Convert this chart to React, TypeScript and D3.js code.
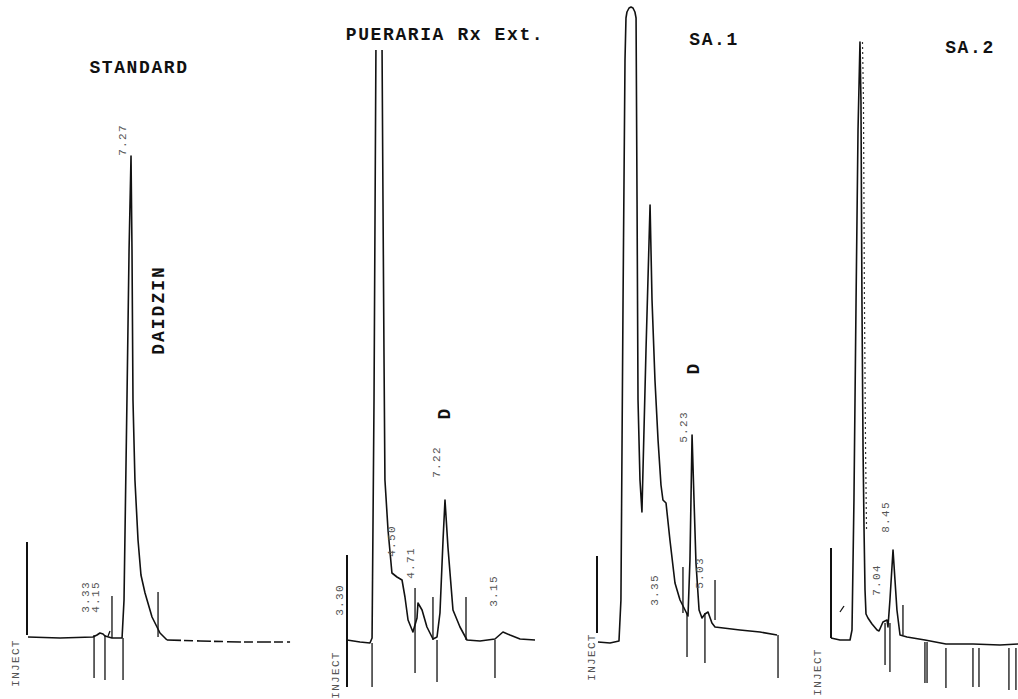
import { useEffect, useRef } from 'react';
import * as d3 from 'd3';

const WIDTH = 1018;
const HEIGHT = 699;

// Traces: retention time (min) vs detector response (mV)
const standardTime = [0.07, 2.36, 4.71, 5.0, 5.21, 5.43, 5.57, 6.07, 6.79, 6.93, 7.14, 7.29, 7.43, 7.5, 7.57, 7.71, 7.93, 8.14, 8.43, 8.93, 9.5, 10.0, 12.36, 15.21, 18.79];
const standardSignal = [1.5, 1, 1.5, 2.5, 3.5, 3, 2, 1, 1, 20, 120, 195, 242, 195, 120, 80, 50, 32.5, 23.5, 11.5, 3.5, 0, -0.5, -1, -1];

const puerariaTime = [0, 0.93, 1.64, 1.79, 1.93, 2.07, 2.29, 2.5, 2.57, 2.64, 2.71, 2.93, 3.21, 3.57, 3.93, 4.14, 4.36, 4.71, 5.0, 5.07, 5.36, 5.71, 6.14, 6.43, 6.64, 6.86, 7.0, 7.21, 7.57, 8.07, 8.57, 9.5, 10.57, 11.14, 11.64, 12.36, 13.43];
const puerariaSignal = [0, -1, -1.5, 1, 120, 300, 320, 300, 220, 145, 80, 55, 33.5, 31.5, 30, 21.5, 10, 4, 11, 18.5, 15, 6.5, 0.5, 1.5, 13.5, 50, 70, 46.5, 15, 6.5, 0, -0.5, 0.5, 4, 2.5, 0.5, 0];

const sa1Time = [0.07, 0.93, 1.57, 1.71, 1.86, 2.0, 2.07, 2.14, 2.29, 2.43, 2.57, 2.71, 2.79, 2.86, 2.93, 3.07, 3.21, 3.5, 3.79, 3.93, 4.14, 4.36, 4.57, 4.71, 4.93, 5.21, 5.57, 5.93, 6.36, 6.5, 6.64, 6.79, 6.93, 7.07, 7.29, 7.5, 7.71, 7.93, 8.21, 8.43, 10.21, 11.64, 12.86];
const sa1Signal = [-1, -1.5, -0.5, 20, 170, 290, 311, 314, 316, 316.5, 316, 314, 311, 220, 120, 80, 64, 145, 217.5, 170, 130, 100, 77.5, 70, 68.5, 50, 28.5, 20, 14, 12, 40, 102.5, 70, 38.5, 15, 11, 13, 14, 8.5, 6.5, 5, 4, 2.5];

const sa2Time = [0, 0.64, 1.36, 1.5, 1.64, 1.79, 1.93, 2.07, 2.14, 2.21, 2.29, 2.36, 2.43, 2.5, 2.64, 2.93, 3.29, 3.43, 3.71, 4.0, 4.07, 4.21, 4.43, 4.57, 4.71, 4.93, 5.43, 6.71, 8.21, 10.14, 12.07, 13.36];
const sa2Signal = [1, 0, 0, 5, 70, 170, 255, 299, 270, 170, 95, 55, 25, 13, 11, 8, 5, 4.5, 9, 10, 6.5, 20, 45, 30, 15, 2.5, 1.5, 0, -2, -2, -2.5, -2];

// Integrator event marks (vertical strokes): time, top and bottom response
const standardMarkTime = [0, 6.07, 9.36, 4.79, 5.57, 6.86];
const standardMarkTop = [49, 22, 24, 2.5, 2.5, 1];
const standardMarkBottom = [2.5, 1, 1.5, -19, -20, -20];

const puerariaMarkTime = [0, 1.79, 4.86, 6.14, 6.43, 8.5, 10.57];
const puerariaMarkTop = [42.5, -1.5, 26, 21.5, 0, 21.5, 0];
const puerariaMarkBottom = [-23.5, -23.5, -16.5, 0, -21, 0, -19];

const sa1MarkTime = [0, 6.14, 6.43, 7.71, 8.43, 12.93];
const sa1MarkTop = [42, 36.5, 13.5, 13.5, 30, 2.5];
const sa1MarkBottom = [3.5, 13.5, -8.5, -11.5, 10, -19];

const sa2MarkTime = [0, 3.86, 4.21, 5.14, 6.71, 6.86, 8.21, 10.14, 10.57, 12.71, 13.21];
const sa2MarkTop = [46, 8.5, 8.5, 17.5, -1, -1, -4, -4, -4, -4, -4];
const sa2MarkBottom = [1, -12.5, -16, 2.5, -21.5, -21.5, -24, -23.5, -23.5, -25, -25];

// Retention time printouts (rotated)
const standardLabelText = ['7.27', '3.33', '4.15', 'INJECT'];
const standardLabelTime = [6.86, 4.21, 4.93, -0.79];
const standardLabelSignal = [250, 21.5, 21.5, -11.5];

const puerariaLabelText = ['3.30', 'INJECT', '4.50', '4.71', '7.22', '3.15'];
const puerariaLabelTime = [-0.5, -0.79, 3.21, 4.57, 6.43, 10.5];
const puerariaLabelSignal = [20, -17.5, 49.5, 38.5, 89, 24.5];

const sa1LabelText = ['INJECT', '3.35', '5.23', '5.03'];
const sa1LabelTime = [-0.36, 4.14, 6.21, 7.36];
const sa1LabelSignal = [-8.5, 25, 106.5, 33.5];

const sa2LabelText = ['INJECT', '7.04', '8.45'];
const sa2LabelTime = [-0.93, 3.29, 3.93];
const sa2LabelSignal = [-16, 30, 61.5];

// Typed peak names (rotated, large)
const standardNoteText = ['DAIDZIN'];
const standardNoteTime = [9.43];
const standardNoteSignal = [165];

const puerariaNoteText = ['D'];
const puerariaNoteTime = [7.0];
const puerariaNoteSignal = [113.5];

const sa1NoteText = ['D'];
const sa1NoteTime = [6.93];
const sa1NoteSignal = [136];

const sa2NoteText: string[] = [];
const sa2NoteTime: number[] = [];
const sa2NoteSignal: number[] = [];

const titles = ['STANDARD', 'PUERARIA Rx Ext.', 'SA.1', 'SA.2'];
const titleTime = [8.0, 7.0, 8.36, 9.93];
const titleSignal = [286, 302.5, 300, 296];

const FONT = '"Liberation Mono", "DejaVu Sans Mono", monospace';

export default function App() {
  const svgRef = useRef<SVGSVGElement>(null);

  useEffect(() => {
    if (!svgRef.current) return;
    const svg = d3.select(svgRef.current);
    svg.selectAll('*').remove();

    svg.append('rect').attr('width', WIDTH).attr('height', HEIGHT).attr('fill', '#fff');

    const yScale = d3.scaleLinear().domain([0, 320]).range([640, 0]);
    const pxPerMin = 14;

    const panels = [
      { x0: 27, clipTop: 0, dashFrom: 10.0, echo: null as null | [number, number], time: standardTime, signal: standardSignal,
        markTime: standardMarkTime, markTop: standardMarkTop, markBottom: standardMarkBottom,
        labelText: standardLabelText, labelTime: standardLabelTime, labelSignal: standardLabelSignal,
        noteText: standardNoteText, noteTime: standardNoteTime, noteSignal: standardNoteSignal },
      { x0: 347, clipTop: 50, dashFrom: Infinity, echo: null, time: puerariaTime, signal: puerariaSignal,
        markTime: puerariaMarkTime, markTop: puerariaMarkTop, markBottom: puerariaMarkBottom,
        labelText: puerariaLabelText, labelTime: puerariaLabelTime, labelSignal: puerariaLabelSignal,
        noteText: puerariaNoteText, noteTime: puerariaNoteTime, noteSignal: puerariaNoteSignal },
      { x0: 597, clipTop: 0, dashFrom: Infinity, echo: null, time: sa1Time, signal: sa1Signal,
        markTime: sa1MarkTime, markTop: sa1MarkTop, markBottom: sa1MarkBottom,
        labelText: sa1LabelText, labelTime: sa1LabelTime, labelSignal: sa1LabelSignal,
        noteText: sa1NoteText, noteTime: sa1NoteTime, noteSignal: sa1NoteSignal },
      { x0: 831, clipTop: 0, dashFrom: Infinity, echo: [2.07, 2.36] as [number, number], time: sa2Time, signal: sa2Signal,
        markTime: sa2MarkTime, markTop: sa2MarkTop, markBottom: sa2MarkBottom,
        labelText: sa2LabelText, labelTime: sa2LabelTime, labelSignal: sa2LabelSignal,
        noteText: sa2NoteText, noteTime: sa2NoteTime, noteSignal: sa2NoteSignal },
    ];

    const defs = svg.append('defs');

    panels.forEach((p, i) => {
      const xScale = d3.scaleLinear().domain([0, 14]).range([p.x0, p.x0 + 14 * pxPerMin]);
      const g = svg.append('g');

      defs.append('clipPath').attr('id', `clip-${i}`)
        .append('rect')
        .attr('x', 0).attr('y', p.clipTop)
        .attr('width', WIDTH).attr('height', HEIGHT - p.clipTop);

      const pts: [number, number][] = p.time.map((t, k) => [t, p.signal[k]]);
      const line = d3.line<[number, number]>()
        .x(d => xScale(d[0]))
        .y(d => yScale(d[1]));

      // trace (the standard's tail is printed broken on the scan)
      g.append('path')
        .datum(pts.filter(d => d[0] <= p.dashFrom))
        .attr('clip-path', `url(#clip-${i})`)
        .attr('fill', 'none')
        .attr('stroke', '#111')
        .attr('stroke-width', 1.6)
        .attr('stroke-linejoin', 'round')
        .attr('d', line);

      if (p.dashFrom !== Infinity) {
        g.append('path')
          .datum(pts.filter(d => d[0] >= p.dashFrom))
          .attr('fill', 'none')
          .attr('stroke', '#111')
          .attr('stroke-width', 1.6)
          .attr('stroke-dasharray', '14 3 9 4')
          .attr('d', line);
      }

      // speckled double of the tall flank seen on the scan
      if (p.echo) {
        const [a, b] = p.echo;
        g.append('path')
          .datum(pts.filter(d => d[0] >= a && d[0] <= b))
          .attr('transform', 'translate(2.5,0)')
          .attr('fill', 'none')
          .attr('stroke', '#333')
          .attr('stroke-width', 1.2)
          .attr('stroke-dasharray', '2 3')
          .attr('d', line);
      }

      // event marks
      g.selectAll('.mark')
        .data(p.markTime)
        .enter()
        .append('line')
        .attr('x1', d => xScale(d))
        .attr('x2', d => xScale(d))
        .attr('y1', (_, k) => yScale(p.markTop[k]))
        .attr('y2', (_, k) => yScale(p.markBottom[k]))
        .attr('stroke', '#111')
        .attr('stroke-width', (_, k) => (k === 0 ? 2 : 1.3));

      // small rotated printouts
      g.selectAll('.lbl')
        .data(p.labelText)
        .enter()
        .append('text')
        .attr('transform', (_, k) => `translate(${xScale(p.labelTime[k])},${yScale(p.labelSignal[k])}) rotate(-90)`)
        .attr('text-anchor', 'middle')
        .attr('dominant-baseline', 'central')
        .attr('font-family', FONT)
        .attr('font-size', 11)
        .attr('letter-spacing', 1.3)
        .attr('fill', '#555')
        .text(d => d);

      // peak names
      g.selectAll('.note')
        .data(p.noteText)
        .enter()
        .append('text')
        .attr('transform', (_, k) => `translate(${xScale(p.noteTime[k])},${yScale(p.noteSignal[k])}) rotate(-90)`)
        .attr('text-anchor', 'middle')
        .attr('dominant-baseline', 'central')
        .attr('font-family', FONT)
        .attr('font-size', 18)
        .attr('font-weight', 'bold')
        .attr('letter-spacing', 2)
        .attr('fill', '#111')
        .text(d => d);

      // title
      g.append('text')
        .attr('x', xScale(titleTime[i]))
        .attr('y', yScale(titleSignal[i]))
        .attr('text-anchor', 'middle')
        .attr('dominant-baseline', 'central')
        .attr('font-family', FONT)
        .attr('font-size', 18)
        .attr('font-weight', 'bold')
        .attr('letter-spacing', 1.6)
        .attr('fill', '#111')
        .text(titles[i]);
    });

    // stray pen strokes next to the injection marks
    const slashTime = [[5.79, 5.93], [0.64, 0.93]];
    const slashSignal = [[2, 4.5], [14, 17]];
    const slashPanel = [0, 3];
    slashPanel.forEach((pi, k) => {
      const xScale = d3.scaleLinear().domain([0, 14]).range([panels[pi].x0, panels[pi].x0 + 14 * pxPerMin]);
      svg.append('line')
        .attr('x1', xScale(slashTime[k][0]))
        .attr('x2', xScale(slashTime[k][1]))
        .attr('y1', yScale(slashSignal[k][0]))
        .attr('y2', yScale(slashSignal[k][1]))
        .attr('stroke', '#111')
        .attr('stroke-width', 1.3);
    });
  }, []);

  return (
    <svg
      ref={svgRef}
      width={WIDTH}
      height={HEIGHT}
      style={{ position: 'absolute', left: 0, top: 0, display: 'block' }}
    />
  );
}
